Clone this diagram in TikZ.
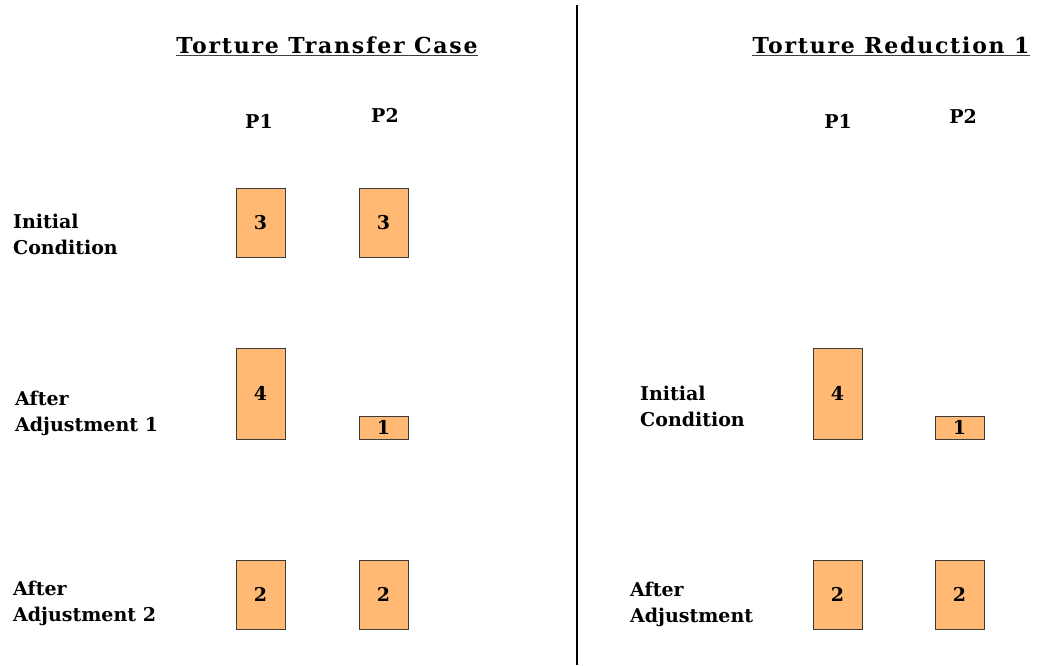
\documentclass[tikz,border=0pt]{standalone}
\usepackage{fontspec}
\setmainfont{DejaVu Serif}
\newfontfamily\titlefont[LetterSpace=8]{DejaVu Serif}
\definecolor{boxfill}{RGB}{255,185,115}
\definecolor{boxline}{RGB}{60,60,60}
\begin{document}
\begin{tikzpicture}[x=1pt,y=-1pt,
  bar/.style={draw=boxline,fill=boxfill,line width=1pt,minimum width=49pt,inner sep=0pt,font=\bfseries\fontsize{19}{19}\selectfont},
  rowlabel/.style={anchor=west,align=left,inner sep=0pt,font=\bfseries\fontsize{19}{26}\selectfont},
  colhead/.style={inner sep=0pt,font=\bfseries\fontsize{19}{19}\selectfont},
  title/.style={inner sep=0pt,font=\titlefont\bfseries\fontsize{22}{22}\selectfont},
  uline/.style={line width=1.5pt,draw=black!75}]
\useasboundingbox (0,0) rectangle (1037,665);
% divider
\coordinate (dtop) at (577,5);
\coordinate (dbot) at (577,665);
\draw[line width=2.5pt] (dtop) -- (dbot);
% titles
\node[title] (t1) at (327,45) {Torture Transfer Case};
\node[title] (t2) at (891,45) {Torture Reduction 1};
\draw[uline] ([yshift=-2pt]t1.south west) -- ([yshift=-2pt]t1.south east);
\draw[uline] ([yshift=-2pt]t2.south west) -- ([yshift=-2pt]t2.south east);
% column headers
\node[colhead] (h1) at (259,121) {P1};
\node[colhead] (h2) at (385,115) {P2};
\node[colhead] (h3) at (838,121) {P1};
\node[colhead] (h4) at (963,116) {P2};
% row labels left
\node[rowlabel] (l1) at (13,234) {Initial\\Condition};
\node[rowlabel] (l2) at (15,413) {After\\Adjustment 1};
\node[rowlabel] (l3) at (13,603) {After\\Adjustment 2};
% row labels right
\node[rowlabel] (r1) at (640,406) {Initial\\Condition};
\node[rowlabel] (r2) at (630,604) {After\\Adjustment};
% left boxes
\node[bar,minimum height=69pt] (a1) at (260.5,222.5) {3};
\node[bar,minimum height=69pt] (a2) at (383.5,222.5) {3};
\node[bar,minimum height=91pt] (b1) at (260.5,393.5) {4};
\node[bar,minimum height=23pt] (b2) at (383.5,427.5) {1};
\node[bar,minimum height=69pt] (c1) at (260.5,594.5) {2};
\node[bar,minimum height=69pt] (c2) at (383.5,594.5) {2};
% right boxes
\node[bar,minimum height=91pt] (d1) at (837.5,393.5) {4};
\node[bar,minimum height=23pt] (d2) at (959.5,427.5) {1};
\node[bar,minimum height=69pt] (e1) at (837.5,594.5) {2};
\node[bar,minimum height=69pt] (e2) at (959.5,594.5) {2};
\end{tikzpicture}
\end{document}
